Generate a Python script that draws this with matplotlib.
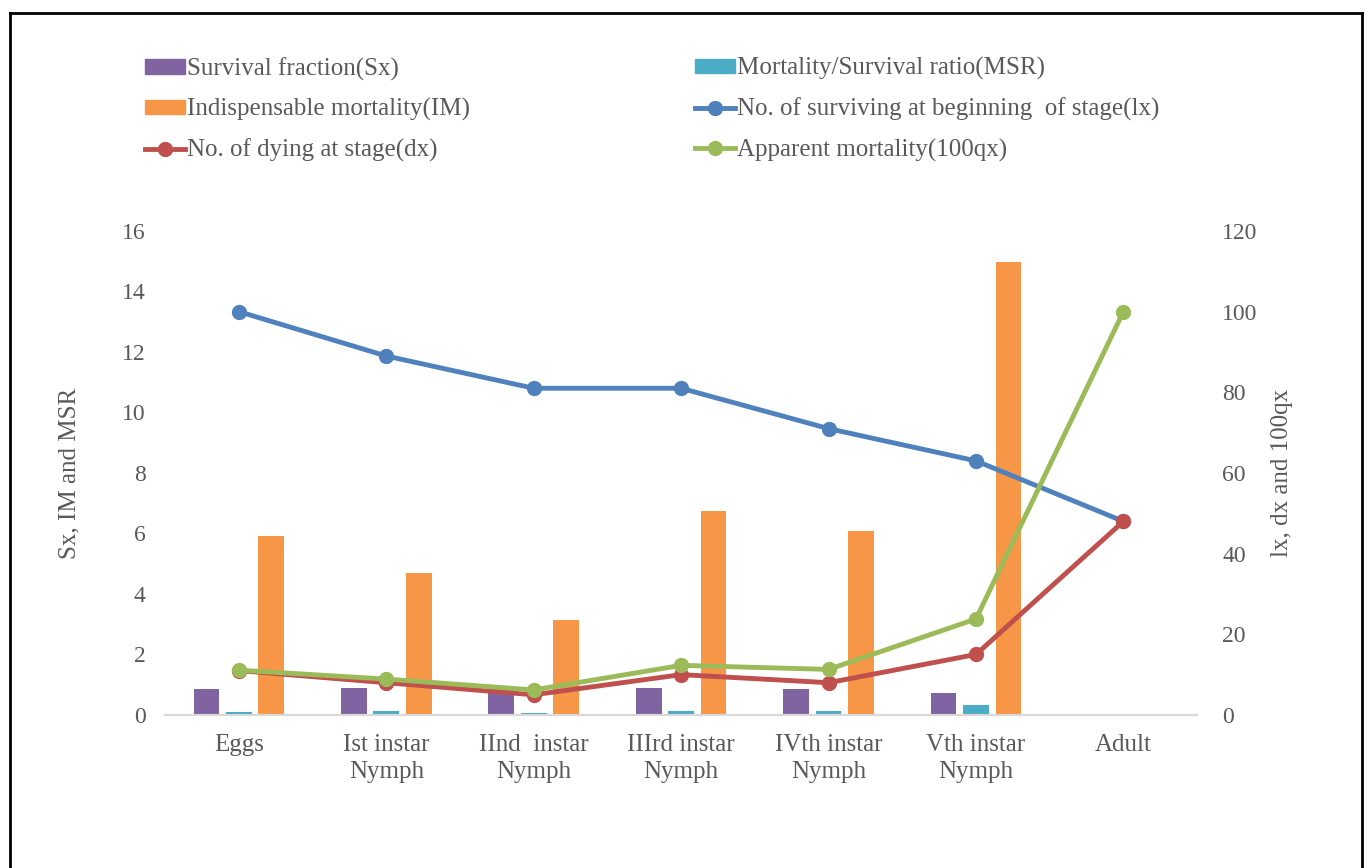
import matplotlib
import numpy as np

matplotlib.use("Agg")
import matplotlib.pyplot as plt  # noqa: E402
from matplotlib.lines import Line2D  # noqa: E402
from matplotlib.patches import Patch  # noqa: E402

plt.rcParams["font.family"] = ["Liberation Serif", "DejaVu Serif"]

stages = ["Eggs", "Ist instar\nNymph", "IInd  instar\nNymph", "IIIrd instar\nNymph",
          "IVth instar\nNymph", "Vth instar\nNymph", "Adult"]
sx = [0.86, 0.89, 0.89, 0.88, 0.86, 0.72, 0.0]
msr = [0.10, 0.12, 0.06, 0.13, 0.13, 0.32, 0.0]
im = [5.92, 4.69, 3.14, 6.74, 6.08, 14.98, 0.0]
lx = [100, 89, 81, 81, 71, 63, 48]
dx = [11, 8, 5, 10, 8, 15, 48]
qx100 = [11.1, 8.9, 6.2, 12.3, 11.3, 23.8, 100]

C_SX, C_MSR, C_IM = "#8064a2", "#4bacc6", "#f79646"
C_LX, C_DX, C_QX = "#4f81bd", "#c0504d", "#9bbb59"
GREY = "#595959"

fig = plt.figure(figsize=(13.65, 8.68), dpi=100)
ax = fig.add_axes([0.121, 0.1763, 0.756, 0.5576])
ax2 = ax.twinx()

x = np.arange(len(stages))
w = 0.175
ax.bar(x - 0.22, sx, w, color=C_SX, zorder=2)
ax.bar(x, msr, w, color=C_MSR, zorder=2)
ax.bar(x + 0.22, im, w, color=C_IM, zorder=2)

ax2.plot(x, lx, color=C_LX, lw=3.5, marker="o", ms=10)
ax2.plot(x, dx, color=C_DX, lw=3.5, marker="o", ms=10)
ax2.plot(x, qx100, color=C_QX, lw=3.5, marker="o", ms=10)

ax.set_xlim(-0.5, len(stages) - 0.5)
ax.set_ylim(0, 16)
ax.set_yticks(range(0, 17, 2))
ax2.set_ylim(0, 120)
ax2.set_yticks(range(0, 121, 20))
ax.set_xticks(x)
ax.set_xticklabels(stages, linespacing=1.25)

for a in (ax, ax2):
    for s in ("top", "left", "right"):
        a.spines[s].set_visible(False)
    a.spines["bottom"].set_color("#d9d9d9")
    a.spines["bottom"].set_linewidth(1.5)
    a.tick_params(length=0, labelsize=17, colors=GREY)
ax.tick_params(axis="y", pad=14)
ax2.tick_params(axis="y", pad=18)
ax.tick_params(axis="x", pad=14, labelsize=18)

ax.set_ylabel("Sx, IM and MSR", fontsize=18, color=GREY, labelpad=30)
ax2.set_ylabel("lx, dx and 100qx", fontsize=18, color=GREY, labelpad=10)

def line_handle(c):
    return Line2D([], [], color=c, lw=3.5, marker="o", ms=10)

legend_kw = dict(loc="upper left", frameon=False, fontsize=18, handlelength=1.6,
                 handletextpad=0.1, labelspacing=0.7, labelcolor=GREY, handleheight=0.5,
                 borderaxespad=0, borderpad=0)
leg1 = fig.legend([Patch(color=C_SX), Patch(color=C_IM), line_handle(C_DX)],
                  ["Survival fraction(Sx)", "Indispensable mortality(IM)",
                   "No. of dying at stage(dx)"],
                  bbox_to_anchor=(0.106, 0.934), **legend_kw)
leg2 = fig.legend([Patch(color=C_MSR), line_handle(C_LX), line_handle(C_QX)],
                  ["Mortality/Survival ratio(MSR)",
                   "No. of surviving at beginning  of stage(lx)",
                   "Apparent mortality(100qx)"],
                  bbox_to_anchor=(0.509, 0.934), **legend_kw)

# outer frame
for xs, ys in (([0.007, 0.998], [0.985, 0.985]), ([0.007, 0.007], [0.0, 0.985]),
               ([0.998, 0.998], [0.0, 0.985])):
    fig.add_artist(Line2D(xs, ys, color="black", lw=2, transform=fig.transFigure))

fig.savefig("out.png", dpi=100)
